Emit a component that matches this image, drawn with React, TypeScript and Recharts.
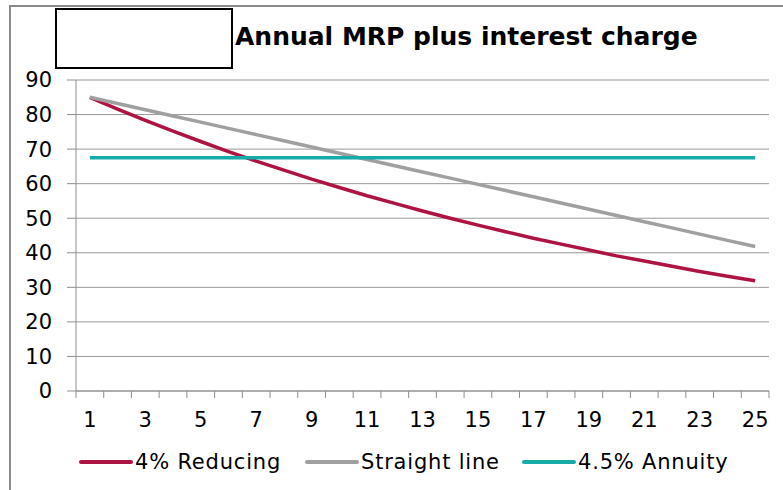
import React from 'react';
import { LineChart, Line, XAxis, YAxis, CartesianGrid, Legend } from 'recharts';

const years = [1, 2, 3, 4, 5, 6, 7, 8, 9, 10, 11, 12, 13, 14, 15, 16, 17, 18, 19, 20, 21, 22, 23, 24, 25];
const reducing = [85, 81.6, 78.3, 75.2, 72.2, 69.3, 66.5, 63.9, 61.3, 58.9, 56.5, 54.3, 52.1, 50.0, 48.0, 46.1, 44.2, 42.5, 40.8, 39.1, 37.6, 36.1, 34.6, 33.2, 31.9];
const straightLine = [85, 83.2, 81.4, 79.6, 77.8, 76, 74.2, 72.4, 70.6, 68.8, 67, 65.2, 63.4, 61.6, 59.8, 58, 56.2, 54.4, 52.6, 50.8, 49, 47.2, 45.4, 43.6, 41.8];
const annuity = [67.5, 67.5, 67.5, 67.5, 67.5, 67.5, 67.5, 67.5, 67.5, 67.5, 67.5, 67.5, 67.5, 67.5, 67.5, 67.5, 67.5, 67.5, 67.5, 67.5, 67.5, 67.5, 67.5, 67.5, 67.5];
const xLabels = [1, 3, 5, 7, 9, 11, 13, 15, 17, 19, 21, 23, 25];
const yTicks = [0, 10, 20, 30, 40, 50, 60, 70, 80, 90];

const data = years.map((year, i) => ({
  year,
  reducing: reducing[i],
  straight: straightLine[i],
  annuity: annuity[i],
}));

// tick marks sit between the categories, labels on every other category
const boundaries = [0.5, ...years.map((y) => y + 0.5)];
const xTicks = [...boundaries, ...xLabels].sort((a, b) => a - b);

const FONT = '"DejaVu Sans", sans-serif';
const AXIS = '#8f8f8f';

const series = [
  { key: 'reducing', name: '4% Reducing', color: '#AD1442' },
  { key: 'straight', name: 'Straight line', color: '#A0A0A0' },
  { key: 'annuity', name: '4.5% Annuity', color: '#17AAAA' },
];
const legendItemWidths = [226, 217, 220];

const XTick = (props: any) => {
  const { x, y, payload } = props;
  const v = payload.value;
  if (!Number.isInteger(v)) {
    return <line x1={x} x2={x} y1={y} y2={y + 7} stroke={AXIS} strokeWidth={1} />;
  }
  if (xLabels.includes(v)) {
    return (
      <text x={x} y={y + 29} dy="0.355em" textAnchor="middle" fontSize={21} fontFamily={FONT} fill="#000">
        {v}
      </text>
    );
  }
  return <g />;
};

const LegendContent = () => (
  <div style={{ display: 'flex', alignItems: 'center', paddingLeft: 79, fontFamily: FONT, fontSize: 21, letterSpacing: 0.8, color: '#000' }}>
    {series.map((s, i) => (
      <div key={s.key} style={{ display: 'flex', alignItems: 'center', width: legendItemWidths[i], whiteSpace: 'nowrap' }}>
        <div style={{ width: 54, height: 4, background: s.color, borderRadius: 2, marginRight: 2 }} />
        <span>{s.name}</span>
      </div>
    ))}
  </div>
);

const App = () => {
  return (
    <div style={{ position: 'absolute', left: 0, top: 0, width: 783, height: 490, background: '#fff', overflow: 'hidden' }}>
      <div style={{ position: 'absolute', left: 9, top: 5, width: 800, height: 500, borderLeft: '2px solid #8a8a8a', borderTop: '2px solid #8a8a8a' }} />
      <div style={{ position: 'absolute', left: 55, top: 8, width: 174, height: 57, border: '2px solid #000' }} />
      <div style={{ position: 'absolute', left: 235, top: 22, fontFamily: FONT, fontSize: 25, fontWeight: 'bold', color: '#000', whiteSpace: 'nowrap' }}>
        Annual MRP plus interest charge
      </div>
      <div style={{ position: 'absolute', left: 0, top: 0 }}>
        <LineChart width={783} height={490} data={data} margin={{ top: 80, right: 14, bottom: 69, left: 0 }}>
          <CartesianGrid vertical={false} stroke="#999" strokeWidth={1} />
          <XAxis
            dataKey="year"
            type="number"
            domain={[0.5, 25.5]}
            ticks={xTicks}
            interval={0}
            tickLine={false}
            tickSize={0}
            tickMargin={0}
            tick={<XTick />}
            axisLine={{ stroke: AXIS }}
            height={30}
          />
          <YAxis
            domain={[0, 90]}
            ticks={yTicks}
            interval={0}
            width={76}
            tickSize={9}
            tickMargin={15}
            tickLine={{ stroke: AXIS }}
            axisLine={{ stroke: AXIS }}
            tick={{ fontSize: 21, fontFamily: FONT, fill: '#000' }}
          />
          <Legend verticalAlign="middle" layout="horizontal" wrapperStyle={{ top: 450, left: 0, width: 783 }} content={<LegendContent />} />
          {series.map((s) => (
            <Line
              key={s.key}
              type="linear"
              dataKey={s.key}
              name={s.name}
              stroke={s.color}
              strokeWidth={3.5}
              dot={false}
              isAnimationActive={false}
            />
          ))}
        </LineChart>
      </div>
    </div>
  );
};

export default App;
